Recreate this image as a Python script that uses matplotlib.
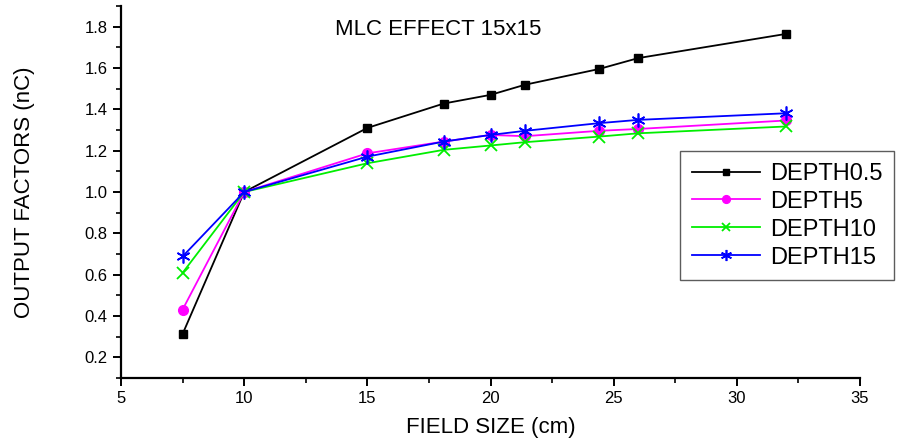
import matplotlib
matplotlib.use("Agg")
import matplotlib.pyplot as plt
from matplotlib.ticker import MultipleLocator

plt.rcParams['font.family'] = ['Liberation Sans', 'DejaVu Sans']

# field sizes (cm)
field = [7.5, 10, 15, 18.1, 20, 21.4, 24.4, 26, 32]

# output factors per depth
depth05 = [0.313, 1.0, 1.31, 1.428, 1.47, 1.519, 1.595, 1.648, 1.765]
depth5 = [0.431, 1.0, 1.187, 1.244, 1.276, 1.27, 1.296, 1.305, 1.346]
depth10 = [0.609, 1.0, 1.139, 1.204, 1.225, 1.241, 1.268, 1.284, 1.317]
depth15 = [0.688, 1.0, 1.171, 1.244, 1.276, 1.296, 1.333, 1.349, 1.381]

fig = plt.figure(figsize=(9.12, 4.48), dpi=100)
ax = fig.add_axes([0.1327, 0.1563, 0.8103, 0.8303])

ax.plot(field, depth05, color='black', marker='s', markersize=6, lw=1.3, label='DEPTH0.5')
ax.plot(field, depth5, color='magenta', marker='o', markersize=7, lw=1.3, label='DEPTH5')
ax.plot(field, depth10, color='#00ee00', marker='x', markersize=8, mew=1.3, lw=1.3, label='DEPTH10')
ax.plot(field, depth15, color='blue', marker=(6, 2, 0), markersize=10, mew=1.2, lw=1.3, label='DEPTH15')

ax.set_xlim(5, 35)
ax.set_ylim(0.1, 1.9)
ax.xaxis.set_major_locator(MultipleLocator(5))
ax.xaxis.set_minor_locator(MultipleLocator(2.5))
ax.yaxis.set_minor_locator(MultipleLocator(0.1))
ax.set_yticks([0.2, 0.4, 0.6, 0.8, 1.0, 1.2, 1.4, 1.6, 1.8])
ax.set_yticklabels(['0.2', '0.4', '0.6', '0.8', '1.0', '1.2', '1.4', '1.6', '1.8'])

for s in ['top', 'right']:
    ax.spines[s].set_visible(False)
for s in ['left', 'bottom']:
    ax.spines[s].set_linewidth(1.6)
ax.tick_params(which='major', length=6, width=1.4, labelsize=12)
ax.tick_params(which='minor', length=3.5, width=1.2)

ax.set_xlabel('FIELD SIZE (cm)', fontsize=16, labelpad=8)
ax.set_ylabel('OUTPUT FACTORS (nC)', fontsize=16)
ax.yaxis.set_label_coords(-0.116, 0.5)

ax.text(17.87, 1.785, 'MLC EFFECT 15x15', fontsize=16, ha='center', va='center')

leg = ax.legend(loc='upper left', bbox_to_anchor=(680 / 912, 1 - 151 / 448),
                bbox_transform=fig.transFigure, borderaxespad=0, fontsize=17,
                frameon=True, fancybox=False, edgecolor='#333333',
                handlelength=2.9, markerscale=0.8, borderpad=0.5,
                labelspacing=0.25, handletextpad=0.4)
leg.get_frame().set_linewidth(1.0)

fig.savefig('out.png', dpi=100)
